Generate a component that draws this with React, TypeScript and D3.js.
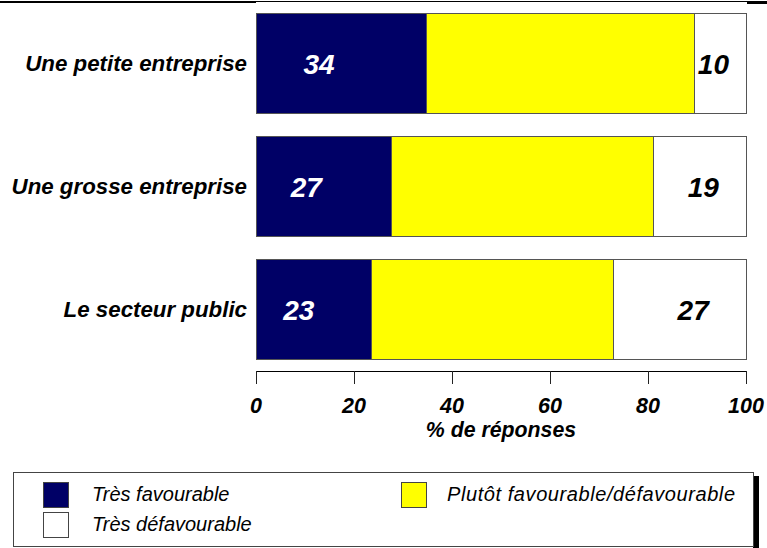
import React from "react";
import * as d3 from "d3";

const categories = ["Une petite entreprise", "Une grosse entreprise", "Le secteur public"];
const tresFavourable = [34.8, 27.7, 23.6];
const plutot = [54.6, 53.5, 49.3];
const tresDefavourable = [10.6, 18.8, 27.1];
const labelsFav = [34, 27, 23];
const labelsDefav = [10, 19, 27];
const ticks = [0, 20, 40, 60, 80, 100];
const seriesNames = ["Très favourable", "Plutôt favourable/défavourable", "Très défavourable"];
const colors = ["#000066", "#FFFF00", "#FFFFFF"];

const W = 767;
const H = 548;
const FONT = "'Liberation Sans', Arial, sans-serif";

export default function App() {
  const x = d3.scaleLinear().domain([0, 100]).range([256, 746]);
  const y = d3
    .scaleBand<string>()
    .domain(categories)
    .range([2, 371])
    .paddingInner(0.195)
    .paddingOuter(0.0975);
  const bw = y.bandwidth();

  const rows = categories.map((c, i) => {
    const segs = [tresFavourable[i], plutot[i], tresDefavourable[i]];
    let acc = 0;
    const parts = segs.map((v, k) => {
      const s = { x0: acc, x1: acc + v, k };
      acc += v;
      return s;
    });
    return { c, i, parts };
  });

  return (
    <svg
      width={W}
      height={H}
      style={{ position: "fixed", left: 0, top: 0, background: "#fff" }}
      fontFamily={FONT}
    >
      {/* top page rule */}
      <rect x={0} y={1} width={256} height={2} fill="#000" />
      <rect x={256} y={1} width={491} height={1} fill="#000" />
      <rect x={747} y={1} width={20} height={3} fill="#000" />

      {/* bars */}
      {rows.map((r) => (
        <g key={r.c}>
          {r.parts.map((p) => (
            <rect
              key={p.k}
              x={x(p.x0)}
              y={y(r.c)!}
              width={x(p.x1) - x(p.x0)}
              height={bw}
              fill={colors[p.k]}
              stroke="#555"
              strokeWidth={1}
              shapeRendering="crispEdges"
            />
          ))}
          <text
            x={247}
            y={y(r.c)! + bw / 2}
            dy="0.35em"
            textAnchor="end"
            fontSize={22.3}
            fontWeight="bold"
            fontStyle="italic"
            fill="#000"
          >
            {r.c}
          </text>
          <text
            x={x(tresFavourable[r.i] * 0.37)}
            y={y(r.c)! + bw / 2}
            dy="0.36em"
            textAnchor="middle"
            fontSize={28}
            fontWeight="bold"
            fontStyle="italic"
            fill="#fff"
          >
            {labelsFav[r.i]}
          </text>
          <text
            x={x(100 - tresDefavourable[r.i] * 0.25 - 4)}
            y={y(r.c)! + bw / 2}
            dy="0.36em"
            textAnchor="middle"
            fontSize={28}
            fontWeight="bold"
            fontStyle="italic"
            fill="#000"
          >
            {labelsDefav[r.i]}
          </text>
        </g>
      ))}

      {/* x axis */}
      <line x1={x(0)} x2={x(100)} y1={371.5} y2={371.5} stroke="#000" />
      {ticks.map((t) => (
        <g key={t}>
          <line
            x1={Math.round(x(t)) + 0.5}
            x2={Math.round(x(t)) + 0.5}
            y1={371}
            y2={384}
            stroke="#222"
          />
          <text
            x={x(t)}
            y={413}
            textAnchor="middle"
            fontSize={21.5}
            fontWeight="bold"
            fontStyle="italic"
            fill="#000"
          >
            {t}
          </text>
        </g>
      ))}
      <text
        x={501}
        y={437}
        textAnchor="middle"
        fontSize={21.3}
        fontWeight="bold"
        fontStyle="italic"
        fill="#000"
      >
        % de réponses
      </text>

      {/* legend */}
      <rect x={753} y={476} width={6} height={72} fill="#000" />
      <rect x={13.5} y={472.5} width={740} height={74} fill="#fff" stroke="#444" />
      {[
        { k: 0, sx: 43, sy: 482, tx: 92 },
        { k: 1, sx: 401, sy: 482, tx: 447 },
        { k: 2, sx: 43, sy: 512, tx: 92 },
      ].map((l) => (
        <g key={l.k}>
          <rect
            x={l.sx + 0.5}
            y={l.sy + 0.5}
            width={25}
            height={25}
            fill={colors[l.k]}
            stroke="#444"
          />
          <text
            x={l.tx}
            y={l.sy + 19}
            fontSize={20}
            fontStyle="italic"
            textLength={l.k === 1 ? 288 : undefined}
            fill="#000"
          >
            {seriesNames[l.k]}
          </text>
        </g>
      ))}
    </svg>
  );
}
